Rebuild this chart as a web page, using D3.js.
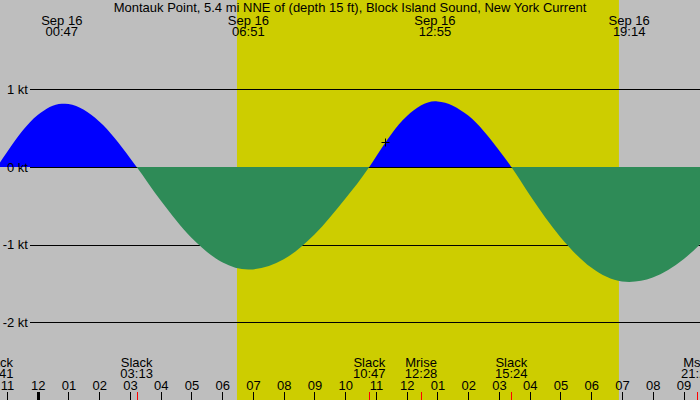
<!DOCTYPE html>
<html><head><meta charset="utf-8">
<script src="https://cdn.jsdelivr.net/npm/d3@7"></script>
<style>
body{margin:0;background:#bebebe;}
svg{display:block;}
text{font-family:"Liberation Sans",Arial,sans-serif;font-size:13px;fill:#000;}
</style>
</head><body><svg id="c" width="700" height="400"></svg>
<script>
const title = "Montauk Point, 5.4 mi NNE of (depth 15 ft), Block Island Sound, New York Current";
// hours after midnight, Sep 16, and current in knots
const hours = [-1.317, -1, 0, 0.783, 1, 2, 3, 3.217, 4, 5, 6, 6.85, 7, 8, 9, 10, 10.783, 11, 12, 12.917, 13, 14, 15, 15.4, 16, 17, 18, 19, 19.233, 20, 21, 21.5, 22];
const knots = [0, 0.19, 0.668, 0.814, 0.808, 0.585, 0.116, 0, -0.434, -0.913, -1.226, -1.321, -1.319, -1.19, -0.87, -0.411, 0, 0.132, 0.652, 0.844, 0.843, 0.66, 0.214, 0, -0.361, -0.904, -1.296, -1.476, -1.481, -1.425, -1.189, -1.01, -0.82];
// max flood / ebb labels at top
const maxHours = [0.783, 6.85, 12.917, 19.233];
const maxTimes = ["00:47", "06:51", "12:55", "19:14"];
const maxDates = ["Sep 16", "Sep 16", "Sep 16", "Sep 16"];
// bottom events
const eventHours = [-1.317, 3.217, 10.783, 12.467, 15.4, 21.45];
const eventNames = ["Slack", "Slack", "Slack", "Mrise", "Slack", "Mset"];
const eventTimes = ["22:41", "03:13", "10:47", "12:28", "15:24", "21:27"];
// hour ticks
const tickHours = [-1, 0, 1, 2, 3, 4, 5, 6, 7, 8, 9, 10, 11, 12, 13, 14, 15, 16, 17, 18, 19, 20, 21];
const tickLabels = ["11", "12", "01", "02", "03", "04", "05", "06", "07", "08", "09", "10", "11", "12", "01", "02", "03", "04", "05", "06", "07", "08", "09"];
const yTicks = [1, 0, -1, -2];
const yLabels = ["1 kt", "0 kt", "-1 kt", "-2 kt"];
const sunriseHour = 6.48, sunsetHour = 18.9;
const nowHour = 11.3, nowKnots = 0.32;

const W = 700, H = 400;
const svg = d3.select("#c");
const x = d3.scaleLinear().domain([0, 21]).range([37.7, 683.5]);
const y = d3.scaleLinear().domain([1, -2]).range([89.2, 322.3]);

svg.append("rect").attr("width", W).attr("height", H).attr("fill", "#bebebe");
svg.append("rect").attr("x", x(sunriseHour)).attr("y", 0)
  .attr("width", x(sunsetHour) - x(sunriseHour)).attr("height", H).attr("fill", "#cdcd00");

// gridlines
const grid = svg.append("g").attr("transform", "translate(30,0)")
  .call(d3.axisLeft(y).tickValues(yTicks).tickSize(-670).tickFormat(""));
grid.select(".domain").remove();
grid.selectAll("line").attr("stroke", "#000").attr("shape-rendering", "crispEdges");

const data = hours.map((h, i) => ({h: h, v: knots[i]}));
const area = d3.area().x(d => x(d.h)).y0(y(0)).y1(d => y(d.v)).curve(d3.curveMonotoneX);
const defs = svg.append("defs");
defs.append("clipPath").attr("id", "up").append("rect")
  .attr("x", 0).attr("y", 0).attr("width", W).attr("height", y(0));
defs.append("clipPath").attr("id", "down").append("rect")
  .attr("x", 0).attr("y", y(0)).attr("width", W).attr("height", H - y(0));
svg.append("path").datum(data).attr("d", area).attr("fill", "#0000ff").attr("clip-path", "url(#up)");
svg.append("path").datum(data).attr("d", area).attr("fill", "#2e8b57").attr("clip-path", "url(#down)");

// y labels
const ylab = svg.append("g").attr("transform", "translate(30,0)")
  .call(d3.axisLeft(y).tickValues(yTicks).tickSize(0).tickPadding(2)
    .tickFormat((d, i) => yLabels[i]));
ylab.select(".domain").remove();
ylab.selectAll("text").style("font-family", "'Liberation Sans',Arial,sans-serif").style("font-size", "13px");

// now marker
const nx = Math.round(x(nowHour)) + 0.5, ny = Math.round(y(nowKnots)) + 0.5;
svg.append("path").attr("d", `M${nx - 4},${ny}H${nx + 4}M${nx},${ny - 4}V${ny + 4}`)
  .attr("stroke", "#000").attr("stroke-width", 1).attr("fill", "none");

// title
svg.append("text").attr("x", 350).attr("y", 12).attr("text-anchor", "middle").text(title);

// top max labels
maxHours.forEach((h, i) => {
  svg.append("text").attr("x", x(h)).attr("y", 24.5).attr("text-anchor", "middle").text(maxDates[i]);
  svg.append("text").attr("x", x(h)).attr("y", 36).attr("text-anchor", "middle").text(maxTimes[i]);
});

// bottom event labels
eventHours.forEach((h, i) => {
  svg.append("text").attr("x", x(h)).attr("y", 366.5).attr("text-anchor", "middle").text(eventNames[i]);
  svg.append("text").attr("x", x(h)).attr("y", 377.5).attr("text-anchor", "middle").text(eventTimes[i]);
  const ex = Math.round(x(h)) + 0.5;
  svg.append("line").attr("x1", ex).attr("x2", ex).attr("y1", 392).attr("y2", H)
    .attr("stroke", "#ff0000").attr("stroke-width", 1);
});

// hour axis
const xa = svg.append("g").attr("transform", `translate(0,${H})`)
  .call(d3.axisTop(x).tickValues(tickHours).tickSize(8).tickPadding(2)
    .tickFormat((d, i) => tickLabels[i]));
xa.select(".domain").remove();
xa.selectAll("line").attr("stroke", "#000").attr("shape-rendering", "crispEdges")
  .attr("stroke-width", d => d === 0 ? 3 : 1);
xa.selectAll("text").style("font-family", "'Liberation Sans',Arial,sans-serif").style("font-size", "13px");
</script>
</body></html>
